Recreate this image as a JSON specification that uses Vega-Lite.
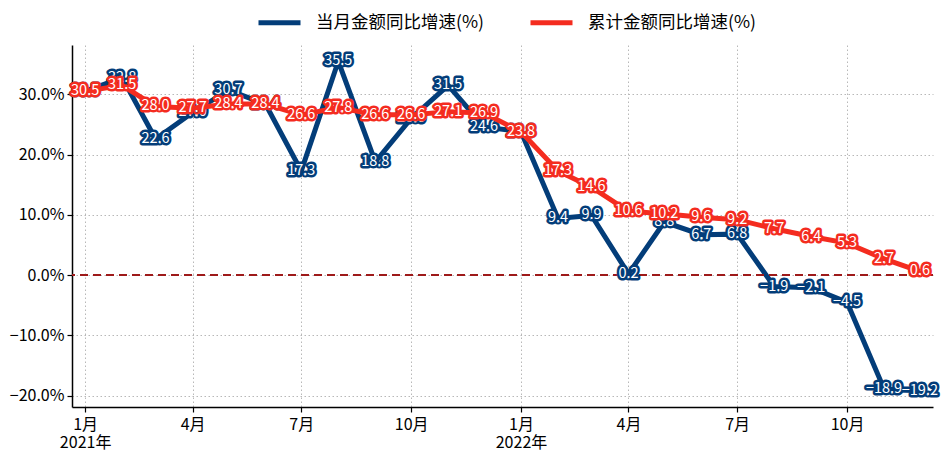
{
  "$schema": "https://vega.github.io/schema/vega-lite/v6.json",
  "width": 861,
  "height": 362,
  "autosize": "none",
  "padding": {"left": 72, "top": 45, "right": 8, "bottom": 44},
  "background": "white",
  "config": {
    "view": {"stroke": null},
    "font": "Noto Sans CJK SC",
    "axis": {"labelFont": "Noto Sans CJK SC", "labelFontSize": 16, "labelColor": "#000000", "domainColor": "#000000", "domainWidth": 1.5, "tickColor": "#000000", "tickWidth": 1.2, "tickSize": 5, "gridColor": "#b8b8b8", "gridDash": [1.5, 2.5], "gridWidth": 1, "title": null}
  },
  "data": {
    "values": [
      {"date": "2021/01/01", "series": "当月金额同比增速(%)", "value": 30.5},
      {"date": "2021/02/01", "series": "当月金额同比增速(%)", "value": 32.8},
      {"date": "2021/03/01", "series": "当月金额同比增速(%)", "value": 22.6},
      {"date": "2021/04/01", "series": "当月金额同比增速(%)", "value": 27.0},
      {"date": "2021/05/01", "series": "当月金额同比增速(%)", "value": 30.7},
      {"date": "2021/06/01", "series": "当月金额同比增速(%)", "value": 28.4},
      {"date": "2021/07/01", "series": "当月金额同比增速(%)", "value": 17.3},
      {"date": "2021/08/01", "series": "当月金额同比增速(%)", "value": 35.5},
      {"date": "2021/09/01", "series": "当月金额同比增速(%)", "value": 18.8},
      {"date": "2021/10/01", "series": "当月金额同比增速(%)", "value": 26.0},
      {"date": "2021/11/01", "series": "当月金额同比增速(%)", "value": 31.5},
      {"date": "2021/12/01", "series": "当月金额同比增速(%)", "value": 24.6},
      {"date": "2022/01/01", "series": "当月金额同比增速(%)", "value": 23.8},
      {"date": "2022/02/01", "series": "当月金额同比增速(%)", "value": 9.4},
      {"date": "2022/03/01", "series": "当月金额同比增速(%)", "value": 9.9},
      {"date": "2022/04/01", "series": "当月金额同比增速(%)", "value": 0.2},
      {"date": "2022/05/01", "series": "当月金额同比增速(%)", "value": 8.8},
      {"date": "2022/06/01", "series": "当月金额同比增速(%)", "value": 6.7},
      {"date": "2022/07/01", "series": "当月金额同比增速(%)", "value": 6.8},
      {"date": "2022/08/01", "series": "当月金额同比增速(%)", "value": -1.9},
      {"date": "2022/09/01", "series": "当月金额同比增速(%)", "value": -2.1},
      {"date": "2022/10/01", "series": "当月金额同比增速(%)", "value": -4.5},
      {"date": "2022/11/01", "series": "当月金额同比增速(%)", "value": -18.9},
      {"date": "2022/12/01", "series": "当月金额同比增速(%)", "value": -19.2},
      {"date": "2021/01/01", "series": "累计金额同比增速(%)", "value": 30.5},
      {"date": "2021/02/01", "series": "累计金额同比增速(%)", "value": 31.5},
      {"date": "2021/03/01", "series": "累计金额同比增速(%)", "value": 28.0},
      {"date": "2021/04/01", "series": "累计金额同比增速(%)", "value": 27.7},
      {"date": "2021/05/01", "series": "累计金额同比增速(%)", "value": 28.4},
      {"date": "2021/06/01", "series": "累计金额同比增速(%)", "value": 28.4},
      {"date": "2021/07/01", "series": "累计金额同比增速(%)", "value": 26.6},
      {"date": "2021/08/01", "series": "累计金额同比增速(%)", "value": 27.8},
      {"date": "2021/09/01", "series": "累计金额同比增速(%)", "value": 26.6},
      {"date": "2021/10/01", "series": "累计金额同比增速(%)", "value": 26.6},
      {"date": "2021/11/01", "series": "累计金额同比增速(%)", "value": 27.1},
      {"date": "2021/12/01", "series": "累计金额同比增速(%)", "value": 26.9},
      {"date": "2022/01/01", "series": "累计金额同比增速(%)", "value": 23.8},
      {"date": "2022/02/01", "series": "累计金额同比增速(%)", "value": 17.3},
      {"date": "2022/03/01", "series": "累计金额同比增速(%)", "value": 14.6},
      {"date": "2022/04/01", "series": "累计金额同比增速(%)", "value": 10.6},
      {"date": "2022/05/01", "series": "累计金额同比增速(%)", "value": 10.2},
      {"date": "2022/06/01", "series": "累计金额同比增速(%)", "value": 9.6},
      {"date": "2022/07/01", "series": "累计金额同比增速(%)", "value": 9.2},
      {"date": "2022/08/01", "series": "累计金额同比增速(%)", "value": 7.7},
      {"date": "2022/09/01", "series": "累计金额同比增速(%)", "value": 6.4},
      {"date": "2022/10/01", "series": "累计金额同比增速(%)", "value": 5.3},
      {"date": "2022/11/01", "series": "累计金额同比增速(%)", "value": 2.7},
      {"date": "2022/12/01", "series": "累计金额同比增速(%)", "value": 0.6}
    ]
  },
  "encoding": {
    "x": {
      "field": "date", "type": "temporal",
      "scale": {"domain": [{"year": 2020, "month": 12, "date": 21}, {"year": 2022, "month": 12, "date": 12}]},
      "axis": {
        "values": [
          {"year": 2021, "month": 1, "date": 1}, {"year": 2021, "month": 4, "date": 1}, {"year": 2021, "month": 7, "date": 1}, {"year": 2021, "month": 10, "date": 1},
          {"year": 2022, "month": 1, "date": 1}, {"year": 2022, "month": 4, "date": 1}, {"year": 2022, "month": 7, "date": 1}, {"year": 2022, "month": 10, "date": 1}
        ],
        "labelExpr": "month(datum.value) == 0 ? [timeFormat(datum.value, '%-m') + '月', timeFormat(datum.value, '%Y') + '年'] : timeFormat(datum.value, '%-m') + '月'",
        "labelPadding": 4,
        "labelLineHeight": 18
      }
    },
    "y": {
      "field": "value", "type": "quantitative",
      "scale": {"domain": [-21.9, 38.2], "nice": false, "zero": false},
      "axis": {"values": [-20, -10, 0, 10, 20, 30], "labelExpr": "format(datum.value, '.1f') + '%'", "labelPadding": 3}
    }
  },
  "layer": [
    {
      "transform": [{"filter": "datum.series == '当月金额同比增速(%)'"}],
      "mark": {"type": "line", "strokeWidth": 5, "strokeJoin": "miter"},
      "encoding": {
        "color": {
          "field": "series", "type": "nominal",
          "scale": {"domain": ["当月金额同比增速(%)", "累计金额同比增速(%)"], "range": ["#033d79", "#f42c1f"]},
          "legend": {
            "title": null, "orient": "none", "legendX": 184, "legendY": -46, "direction": "horizontal",
            "symbolType": "stroke", "symbolSize": 1764, "symbolStrokeWidth": 5,
            "labelFont": "Noto Sans CJK SC", "labelFontSize": 17.5, "labelColor": "#000000",
            "labelOffset": 13, "columnPadding": 36, "labelLimit": 300
          }
        }
      }
    },
    {
      "mark": {"type": "rule", "color": "#9e1a1a", "strokeWidth": 2, "strokeDash": [8, 5]},
      "encoding": {"y": {"datum": 0}, "x": null}
    },
    {
      "transform": [{"filter": "datum.series == '当月金额同比增速(%)'"}],
      "mark": {"type": "text", "fontSize": 14.5, "fill": "#033d79", "stroke": "#033d79", "strokeWidth": 5, "strokeJoin": "round", "align": "center", "baseline": "middle"},
      "encoding": {"text": {"field": "value", "type": "quantitative", "format": ".1f"}}
    },
    {
      "transform": [{"filter": "datum.series == '当月金额同比增速(%)'"}],
      "mark": {"type": "text", "fontSize": 14.5, "fill": "#ffffff", "align": "center", "baseline": "middle"},
      "encoding": {"text": {"field": "value", "type": "quantitative", "format": ".1f"}}
    },
    {
      "transform": [{"filter": "datum.series == '累计金额同比增速(%)'"}],
      "mark": {"type": "line", "strokeWidth": 5, "strokeJoin": "miter"},
      "encoding": {"color": {"field": "series", "type": "nominal"}}
    },
    {
      "transform": [{"filter": "datum.series == '累计金额同比增速(%)'"}],
      "mark": {"type": "text", "fontSize": 14.5, "fill": "#f42c1f", "stroke": "#f42c1f", "strokeWidth": 5, "strokeJoin": "round", "align": "center", "baseline": "middle"},
      "encoding": {"text": {"field": "value", "type": "quantitative", "format": ".1f"}}
    },
    {
      "transform": [{"filter": "datum.series == '累计金额同比增速(%)'"}],
      "mark": {"type": "text", "fontSize": 14.5, "fill": "#ffffff", "align": "center", "baseline": "middle"},
      "encoding": {"text": {"field": "value", "type": "quantitative", "format": ".1f"}}
    }
  ]
}
